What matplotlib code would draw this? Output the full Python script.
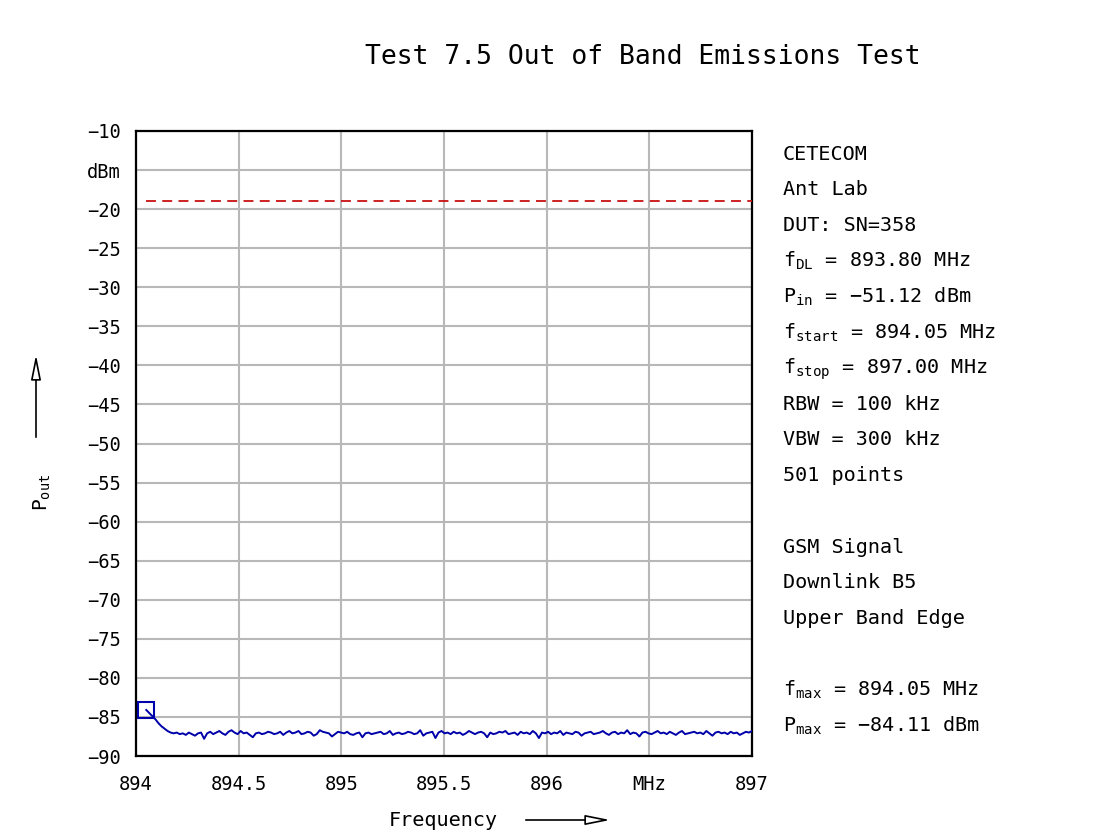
import numpy as np
import matplotlib
matplotlib.use("Agg")
import matplotlib.pyplot as plt

plt.rcParams['font.family'] = ['DejaVu Sans Mono', 'DejaVu Sans']
plt.rcParams['mathtext.fontset'] = 'custom'
plt.rcParams['mathtext.rm'] = 'DejaVu Sans Mono'
plt.rcParams['mathtext.it'] = 'DejaVu Sans Mono'
plt.rcParams['mathtext.default'] = 'rm'

# ---------------- data ----------------
f_start = 894.05
f_stop = 897.00
p_out = [
    -84.11, -84.5, -84.9, -85.3, -85.8, -86.2, -86.5, -86.8, -87.0, -87.1,
    -87.0, -87.2, -87.1, -87.3, -87.0, -87.2, -87.4, -87.1, -87.0, -87.8,
    -87.1, -86.9, -87.2, -87.0, -86.8, -87.1, -87.3, -86.9, -86.7, -87.0,
    -87.2, -86.8, -87.1, -87.0, -87.3, -87.6, -87.1, -87.0, -87.2, -87.1,
    -86.9, -87.0, -87.2, -87.1, -86.9, -87.3, -87.0, -86.8, -87.1, -87.0,
    -86.8, -87.2, -87.1, -86.9, -87.0, -87.4, -87.2, -86.7, -86.9, -87.0,
    -87.1, -87.5, -87.2, -86.9, -87.0, -87.1, -86.9, -87.2, -87.3, -87.1,
    -87.0, -87.6, -87.1, -87.0, -87.2, -87.1, -87.0, -86.9, -87.2, -87.1,
    -86.8, -87.3, -87.1, -87.0, -87.2, -87.1, -86.9, -87.0, -87.2, -87.1,
    -86.7, -87.4, -87.1, -87.0, -86.9, -87.7, -87.0, -86.8, -87.1, -87.0,
    -87.2, -86.9, -87.1, -87.0, -87.3, -87.1, -86.8, -87.0, -87.2, -87.0,
    -86.9, -87.1, -87.6, -87.0, -87.2, -87.1, -86.9, -87.0, -86.8, -87.2,
    -87.1, -87.0, -87.3, -86.9, -87.1, -87.0, -87.2, -86.8, -87.1, -87.7,
    -87.0, -87.1, -86.9, -87.2, -87.0, -87.1, -86.8, -87.3, -87.0, -87.1,
    -87.2, -86.9, -87.0, -87.4, -87.1, -87.0, -86.9, -87.2, -87.1, -87.0,
    -86.8, -87.1, -87.3, -87.0, -86.9, -87.2, -87.0, -87.1, -86.7, -87.2,
    -87.0, -87.1, -87.5, -87.0, -86.9, -87.1, -87.2, -87.0, -86.8, -87.1,
    -87.0, -87.2, -86.9, -87.1, -87.3, -87.0, -86.8, -87.2, -87.1, -87.0,
    -86.9, -87.1, -87.0, -87.2, -86.8, -87.1, -87.4, -87.0, -86.9, -87.1,
    -87.0, -87.2, -86.9, -87.1, -87.0, -87.3, -87.1, -86.9, -87.0, -86.8,
]
freq = np.linspace(f_start, f_stop, len(p_out))

limit_freq = [894.05, 897.00]
limit_val = [-19.0, -19.0]

f_max = 894.05
p_max = -84.11

x_ticks = [894, 894.5, 895, 895.5, 896, 896.5, 897]
x_tick_labels = ['894', '894.5', '895', '895.5', '896', 'MHz', '897']
y_ticks = [-10, -15, -20, -25, -30, -35, -40, -45, -50, -55, -60, -65, -70, -75, -80, -85, -90]
y_tick_labels = ['\u221210', 'dBm', '\u221220', '\u221225', '\u221230', '\u221235', '\u221240',
                 '\u221245', '\u221250', '\u221255', '\u221260', '\u221265', '\u221270',
                 '\u221275', '\u221280', '\u221285', '\u221290']

info_lines = [
    'CETECOM',
    'Ant Lab',
    'DUT: SN=358',
    r'f$_{\rm DL}$ = 893.80 MHz',
    r'P$_{\rm in}$ = ' + '\u221251.12 dBm',
    r'f$_{\rm start}$ = 894.05 MHz',
    r'f$_{\rm stop}$ = 897.00 MHz',
    'RBW = 100 kHz',
    'VBW = 300 kHz',
    '501 points',
    '',
    'GSM Signal',
    'Downlink B5',
    'Upper Band Edge',
    '',
    r'f$_{\rm max}$ = 894.05 MHz',
    r'P$_{\rm max}$ = ' + '\u221284.11 dBm',
]
title = 'Test 7.5 Out of Band Emissions Test'

# ---------------- figure ----------------
W, H = 1093, 831
fig = plt.figure(figsize=(W / 100, H / 100), dpi=100)
fig.patch.set_facecolor('white')

def fx(px):
    return px / W

def fy(py):
    return 1 - py / H

ax = fig.add_axes([fx(136), fy(756), fx(752) - fx(136), fy(131) - fy(756)])
ax.set_xlim(894, 897)
ax.set_ylim(-90, -10)

ax.set_xticks(x_ticks)
ax.set_xticklabels(x_tick_labels)
ax.set_yticks(y_ticks)
ax.set_yticklabels(y_tick_labels)
ax.tick_params(axis='both', length=0, labelsize=13.5, colors='black')
ax.tick_params(axis='y', pad=11)
ax.tick_params(axis='x', pad=14)

ax.grid(True, color='#b8b8b8', linewidth=1.5)
ax.set_axisbelow(True)
for s in ax.spines.values():
    s.set_color('black')
    s.set_linewidth(1.6)

ax.plot(limit_freq, limit_val, color='#c81010', linewidth=1.3,
        linestyle=(0, (5.5, 3.5)), zorder=3)
ax.plot(freq, p_out, color='#0000aa', linewidth=1.4, zorder=4)
ax.plot([f_max], [p_max], marker='s', markersize=12, markerfacecolor='none',
        markeredgecolor='#0000aa', markeredgewidth=1.5, linestyle='none', zorder=5)

# title
fig.text(fx(643), fy(57), title, ha='center', va='center', fontsize=19, color='black')

# info text block
for k, line in enumerate(info_lines):
    if line:
        fig.text(fx(783), fy(153 + 35.75 * k + 6.5), line, ha='left', va='baseline',
                 fontsize=14.5, color='black')

# y label with arrow
fig.text(fx(42), fy(492), r'P$_{\rm out}$', rotation=90, ha='center', va='center',
         fontsize=14, color='black')
fig.add_artist(matplotlib.patches.FancyArrowPatch(
    (fx(36), fy(440)), (fx(36), fy(352)), transform=fig.transFigure,
    arrowstyle='-|>,head_length=1.0,head_width=0.2', mutation_scale=15,
    linewidth=1.2, edgecolor='black', facecolor='white'))

# x label with arrow
fig.text(fx(443), fy(820), 'Frequency', ha='center', va='center', fontsize=14.5, color='black')
fig.add_artist(matplotlib.patches.FancyArrowPatch(
    (fx(523), fy(820)), (fx(613), fy(820)), transform=fig.transFigure,
    arrowstyle='-|>,head_length=1.0,head_width=0.2', mutation_scale=15,
    linewidth=1.2, edgecolor='black', facecolor='white'))

fig.savefig('out.png', dpi=100, facecolor='white')
